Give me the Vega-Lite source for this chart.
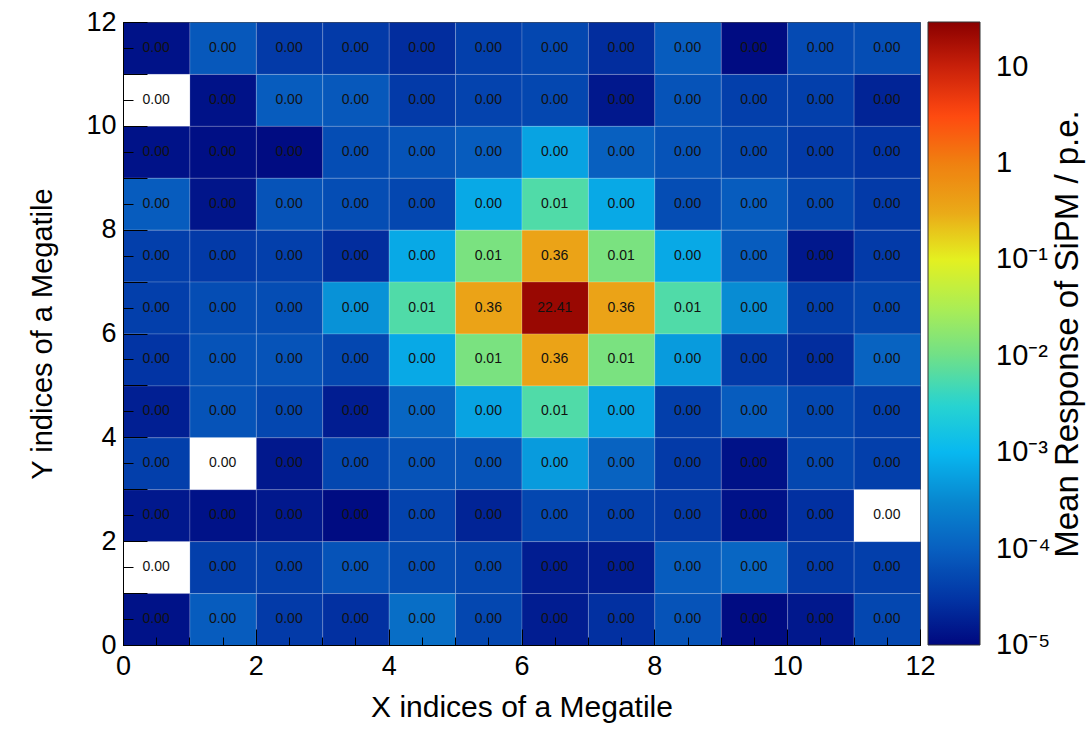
{
  "$schema": "https://vega.github.io/schema/vega-lite/v6.json",
  "width": 797,
  "height": 623,
  "autosize": {"type": "none"},
  "padding": {"left": 123, "top": 22, "right": 166, "bottom": 84},
  "background": "white",
  "data": {"values": [
    {"x":0,"y":11,"v":1.3e-5},{"x":1,"y":11,"v":8e-5},{"x":2,"y":11,"v":3.5e-5},{"x":3,"y":11,"v":3.5e-5},{"x":4,"y":11,"v":2.5e-5},{"x":5,"y":11,"v":4e-5},{"x":6,"y":11,"v":5e-5},{"x":7,"y":11,"v":2.5e-5},{"x":8,"y":11,"v":9e-5},{"x":9,"y":11,"v":1.1e-5},{"x":10,"y":11,"v":5.5e-5},{"x":11,"y":11,"v":6e-5},
    {"x":0,"y":10,"v":0},{"x":1,"y":10,"v":1.3e-5},{"x":2,"y":10,"v":9e-5},{"x":3,"y":10,"v":8e-5},{"x":4,"y":10,"v":3.5e-5},{"x":5,"y":10,"v":4.5e-5},{"x":6,"y":10,"v":5e-5},{"x":7,"y":10,"v":1.5e-5},{"x":8,"y":10,"v":7e-5},{"x":9,"y":10,"v":4e-5},{"x":10,"y":10,"v":4e-5},{"x":11,"y":10,"v":2e-5},
    {"x":0,"y":9,"v":1.3e-5},{"x":1,"y":9,"v":1.2e-5},{"x":2,"y":9,"v":1.1e-5},{"x":3,"y":9,"v":6e-5},{"x":4,"y":9,"v":7e-5},{"x":5,"y":9,"v":9e-5},{"x":6,"y":9,"v":6e-4},{"x":7,"y":9,"v":1e-4},{"x":8,"y":9,"v":7e-5},{"x":9,"y":9,"v":5e-5},{"x":10,"y":9,"v":3.5e-5},{"x":11,"y":9,"v":3e-5},
    {"x":0,"y":8,"v":9e-5},{"x":1,"y":8,"v":1.4e-5},{"x":2,"y":8,"v":7e-5},{"x":3,"y":8,"v":6e-5},{"x":4,"y":8,"v":5e-5},{"x":5,"y":8,"v":7e-4},{"x":6,"y":8,"v":6e-3},{"x":7,"y":8,"v":7e-4},{"x":8,"y":8,"v":6e-5},{"x":9,"y":8,"v":9e-5},{"x":10,"y":8,"v":5e-5},{"x":11,"y":8,"v":3.5e-5},
    {"x":0,"y":7,"v":4e-5},{"x":1,"y":7,"v":3.5e-5},{"x":2,"y":7,"v":4e-5},{"x":3,"y":7,"v":2.5e-5},{"x":4,"y":7,"v":7e-4},{"x":5,"y":7,"v":0.012},{"x":6,"y":7,"v":0.36},{"x":7,"y":7,"v":0.012},{"x":8,"y":7,"v":7e-4},{"x":9,"y":7,"v":9e-5},{"x":10,"y":7,"v":1.5e-5},{"x":11,"y":7,"v":3.5e-5},
    {"x":0,"y":6,"v":4e-5},{"x":1,"y":6,"v":6e-5},{"x":2,"y":6,"v":6e-5},{"x":3,"y":6,"v":4e-4},{"x":4,"y":6,"v":6e-3},{"x":5,"y":6,"v":0.36},{"x":6,"y":6,"v":22.41},{"x":7,"y":6,"v":0.36},{"x":8,"y":6,"v":6e-3},{"x":9,"y":6,"v":3.5e-4},{"x":10,"y":6,"v":4e-5},{"x":11,"y":6,"v":5e-5},
    {"x":0,"y":5,"v":3e-5},{"x":1,"y":5,"v":7e-5},{"x":2,"y":5,"v":7e-5},{"x":3,"y":5,"v":5e-5},{"x":4,"y":5,"v":7e-4},{"x":5,"y":5,"v":0.012},{"x":6,"y":5,"v":0.36},{"x":7,"y":5,"v":0.012},{"x":8,"y":5,"v":5e-4},{"x":9,"y":5,"v":3.5e-5},{"x":10,"y":5,"v":2.5e-5},{"x":11,"y":5,"v":1.1e-4},
    {"x":0,"y":4,"v":1.8e-5},{"x":1,"y":4,"v":7e-5},{"x":2,"y":4,"v":5e-5},{"x":3,"y":4,"v":1.7e-5},{"x":4,"y":4,"v":1.2e-4},{"x":5,"y":4,"v":6e-4},{"x":6,"y":4,"v":6e-3},{"x":7,"y":4,"v":6e-4},{"x":8,"y":4,"v":4e-5},{"x":9,"y":4,"v":9e-5},{"x":10,"y":4,"v":5e-5},{"x":11,"y":4,"v":4e-5},
    {"x":0,"y":3,"v":4e-5},{"x":1,"y":3,"v":0},{"x":2,"y":3,"v":1.5e-5},{"x":3,"y":3,"v":5e-5},{"x":4,"y":3,"v":7e-5},{"x":5,"y":3,"v":7e-5},{"x":6,"y":3,"v":5e-4},{"x":7,"y":3,"v":1.1e-4},{"x":8,"y":3,"v":3.5e-5},{"x":9,"y":3,"v":1.3e-5},{"x":10,"y":3,"v":5e-5},{"x":11,"y":3,"v":4e-5},
    {"x":0,"y":2,"v":1.5e-5},{"x":1,"y":2,"v":1.3e-5},{"x":2,"y":2,"v":1.5e-5},{"x":3,"y":2,"v":1.1e-5},{"x":4,"y":2,"v":4.5e-5},{"x":5,"y":2,"v":2e-5},{"x":6,"y":2,"v":5e-5},{"x":7,"y":2,"v":4e-5},{"x":8,"y":2,"v":3.5e-5},{"x":9,"y":2,"v":1.3e-5},{"x":10,"y":2,"v":2.7e-5},{"x":11,"y":2,"v":0},
    {"x":0,"y":1,"v":0},{"x":1,"y":1,"v":4e-5},{"x":2,"y":1,"v":4e-5},{"x":3,"y":1,"v":7e-5},{"x":4,"y":1,"v":6e-5},{"x":5,"y":1,"v":5e-5},{"x":6,"y":1,"v":1.7e-5},{"x":7,"y":1,"v":1.7e-5},{"x":8,"y":1,"v":9e-5},{"x":9,"y":1,"v":1.2e-4},{"x":10,"y":1,"v":3.5e-5},{"x":11,"y":1,"v":4e-5},
    {"x":0,"y":0,"v":1.3e-5},{"x":1,"y":0,"v":9e-5},{"x":2,"y":0,"v":3.5e-5},{"x":3,"y":0,"v":2.7e-5},{"x":4,"y":0,"v":1.5e-4},{"x":5,"y":0,"v":5e-5},{"x":6,"y":0,"v":1.7e-5},{"x":7,"y":0,"v":2.7e-5},{"x":8,"y":0,"v":7e-5},{"x":9,"y":0,"v":1.1e-5},{"x":10,"y":0,"v":1.5e-5},{"x":11,"y":0,"v":5e-5}
  ]},
  "layer": [
    {
      "mark": {"type": "rect", "stroke": "#ffffff", "strokeOpacity": 0.18, "strokeWidth": 1},
      "encoding": {
        "x": {"field": "x", "type": "quantitative", "bin": {"binned": true, "step": 1},
              "scale": {"domain": [0, 12], "nice": false, "zero": false},
              "axis": {"orient": "bottom", "values": [0,2,4,6,8,10,12], "format": "d", "tickSize": -16, "labelPadding": 24, "labelFontSize": 27, "labelFlush": false,
                       "title": "X indices of a Megatile", "titleFontSize": 30, "titlePadding": 13}},
        "y": {"field": "y", "type": "quantitative", "bin": {"binned": true, "step": 1},
              "scale": {"domain": [0, 12], "nice": false, "zero": false},
              "axis": {"orient": "left", "values": [0,1,2,3,4,5,6,7,8,9,10,11,12], "labelExpr": "datum.value % 2 == 0 ? datum.label : ''", "format": "d", "tickSize": -24, "labelPadding": 31, "labelFontSize": 27, "labelFlush": false,
                       "title": "Y indices of a Megatile", "titleFontSize": 29, "titlePadding": 28}},
        "color": {
          "condition": {"test": "datum.v <= 0", "value": "white"},
          "field": "v", "type": "quantitative",
          "scale": {"type": "log", "interpolate": "rgb",
                    "domain": [1e-5, 3.16e-5, 1e-4, 3.16e-4, 1e-3, 3.16e-3, 1e-2, 3.16e-2, 0.1, 0.316, 1, 3.16, 10, 29],
                    "range": ["#00087f", "#0236a6", "#0860c0", "#0888d0", "#08b8f0", "#28d4d0", "#70e088", "#acee54", "#e4f020", "#eaa818", "#f08010", "#ff4810", "#c8200a", "#8a0000"]},
          "legend": {"orient": "right", "offset": 8, "padding": 0, "direction": "vertical",
                     "gradientLength": 623, "gradientThickness": 52, "gradientStrokeColor": "#333333", "gradientStrokeWidth": 1,
                     "values": [1e-5, 1e-4, 1e-3, 1e-2, 0.1, 1, 10],
                     "labelExpr": "datum.value >= 9 ? '10' : datum.value >= 0.9 ? '1' : datum.value >= 0.09 ? '10⁻¹' : datum.value >= 0.009 ? '10⁻²' : datum.value >= 0.0009 ? '10⁻³' : datum.value >= 0.00009 ? '10⁻⁴' : '10⁻⁵'",
                     "labelFontSize": 29, "labelFont": "Liberation Sans", "labelColor": "black", "labelOffset": 16, "labelOverlap": false,
                     "title": "Mean Response of SiPM / p.e.", "titleOrient": "right", "titleFontSize": 33, "titleFont": "Liberation Sans", "titleFontWeight": "normal", "titleColor": "black", "titlePadding": 34, "titleAnchor": "middle", "titleLimit": 2000,
                     "encode": {"title": {"update": {"angle": {"value": -90}}}, "labels": {"update": {"baseline": {"value": "middle"}}}}}
        }
      }
    },
    {
      "mark": {"type": "rect", "fillOpacity": 0, "strokeOpacity": 0},
      "encoding": {
        "x": {"field": "x", "type": "quantitative", "bin": {"binned": true, "step": 1},
              "scale": {"domain": [0, 12], "nice": false, "zero": false},
              "axis": {"orient": "bottom", "values": [0,0.5,1,1.5,2,2.5,3,3.5,4,4.5,5,5.5,6,6.5,7,7.5,8,8.5,9,9.5,10,10.5,11,11.5,12], "tickSize": -8, "labels": false, "domain": false, "title": null}},
        "y": {"field": "y", "type": "quantitative", "bin": {"binned": true, "step": 1},
              "scale": {"domain": [0, 12], "nice": false, "zero": false},
              "axis": {"orient": "left", "values": [0,0.5,1,1.5,2,2.5,3,3.5,4,4.5,5,5.5,6,6.5,7,7.5,8,8.5,9,9.5,10,10.5,11,11.5,12], "tickSize": -10, "labels": false, "domain": false, "title": null}}
      }
    },
    {
      "mark": {"type": "text", "fontSize": 14, "font": "Liberation Sans", "color": "#111111"},
      "encoding": {
        "x": {"field": "x", "type": "ordinal", "scale": {"domain": [0,1,2,3,4,5,6,7,8,9,10,11], "paddingInner": 0, "paddingOuter": 0}, "axis": null},
        "y": {"field": "y", "type": "ordinal", "scale": {"domain": [11,10,9,8,7,6,5,4,3,2,1,0], "paddingInner": 0, "paddingOuter": 0}, "axis": null},
        "text": {"field": "v", "type": "quantitative", "format": ".2f"}
      }
    }
  ],
  "resolve": {"scale": {"x": "independent", "y": "independent"}, "axis": {"x": "independent", "y": "independent"}},
  "config": {
    "font": "Liberation Sans",
    "view": {"stroke": "black", "strokeWidth": 1},
    "axis": {"grid": false, "domainColor": "black", "tickColor": "black", "labelColor": "black", "titleColor": "black",
             "labelFont": "Liberation Sans", "titleFont": "Liberation Sans", "titleFontWeight": "normal", "tickWidth": 1, "domainWidth": 1}
  }
}
